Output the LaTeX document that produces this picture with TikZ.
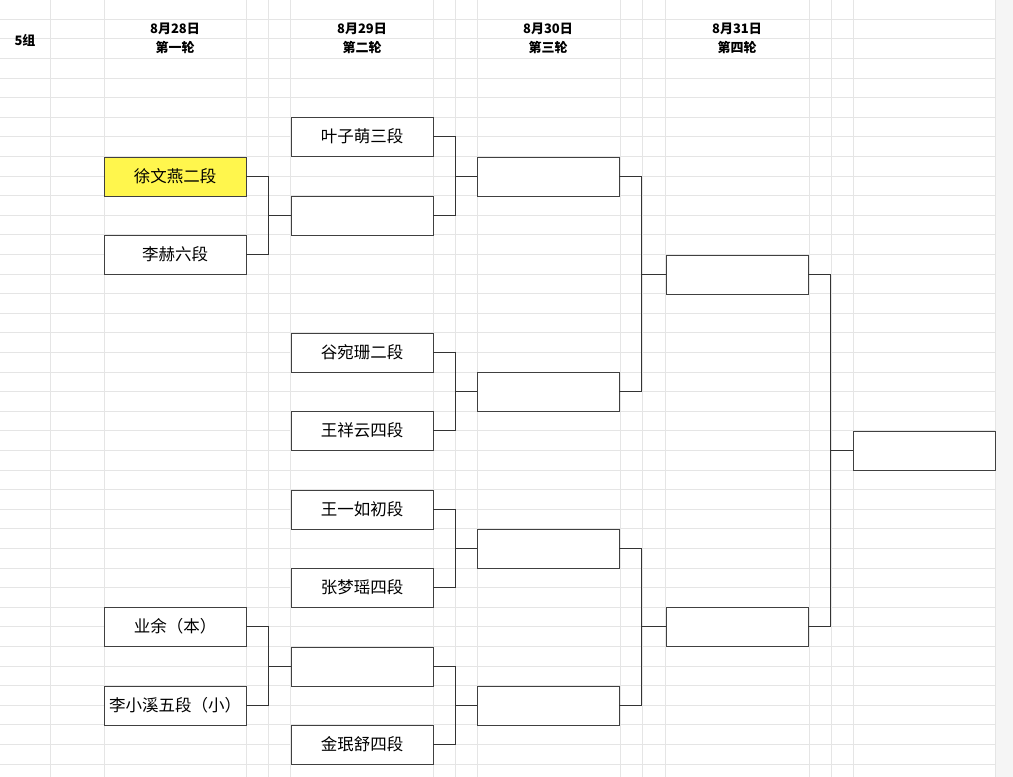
\documentclass[tikz,border=0pt]{standalone}
\usepackage{fontspec}
\setmainfont{Noto Sans CJK SC}
\tikzset{
  player/.style={draw=black!75, fill=white, minimum width=142pt, minimum height=39pt, inner sep=0pt, font=\fontsize{16.5}{18}\selectfont},
  seed/.style={player, fill=yellow!70},
  head/.style={font=\fontsize{13}{19}\selectfont\bfseries, align=center},
  link/.style={draw=black!80, line width=0.8pt},
  cell/.style={draw=black!10, line width=0.6pt}
}
\begin{document}
\begin{tikzpicture}[x=1pt,y=-1pt]
\useasboundingbox (0,0) rectangle (1013,777);
% sheet grid
\fill[black!4] (995,0) rectangle (1013,777);
\foreach \gx in {50,104,246,268,290,433,455,477,620,642,665,809,831,853,995}
  \draw[cell] (\gx,0) -- (\gx,777);
\foreach \k in {-5,...,33}
  \draw[cell] (0,117+19.6*\k) -- (995,117+19.6*\k);
% headers
\node[head] (grp) at (25,40) {5组};
\node[head] (h1) at (175,38) {8月28日\\第一轮};
\node[head] (h2) at (362,38) {8月29日\\第二轮};
\node[head] (h3) at (548,38) {8月30日\\第三轮};
\node[head] (h4) at (737,38) {8月31日\\第四轮};
% round one
\node[seed] (a1) at (175,176.5) {徐文燕二段};
\node[player] (a2) at (175,254.5) {李赫六段};
\node[player] (a3) at (175,626.5) {业余（本）};
\node[player] (a4) at (175,705.5) {李小溪五段（小）};
% round two
\node[player] (b1) at (362,136.5) {叶子萌三段};
\node[player] (b2) at (362,215.5) {};
\node[player] (b3) at (362,352.5) {谷宛珊二段};
\node[player] (b4) at (362,430.5) {王祥云四段};
\node[player] (b5) at (362,509.5) {王一如初段};
\node[player] (b6) at (362,587.5) {张梦瑶四段};
\node[player] (b7) at (362,666.5) {};
\node[player] (b8) at (362,744.5) {金珉舒四段};
% round three
\node[player] (c1) at (548,176.5) {};
\node[player] (c2) at (548,391.5) {};
\node[player] (c3) at (548,548.5) {};
\node[player] (c4) at (548,705.5) {};
% round four
\node[player] (d1) at (737,274.5) {};
\node[player] (d2) at (737,626.5) {};
% final
\node[player] (e1) at (924,450.5) {};
% connectors
\foreach \src/\dst in {a1/b2,a2/b2,a3/b7,a4/b7,b1/c1,b2/c1,b3/c2,b4/c2,b5/c3,b6/c3,b7/c4,b8/c4,c1/d1,c2/d1,c3/d2,c4/d2,d1/e1,d2/e1}
  \draw[link] (\src.east) -- ++(22,0) |- (\dst.west);
\end{tikzpicture}
\end{document}
